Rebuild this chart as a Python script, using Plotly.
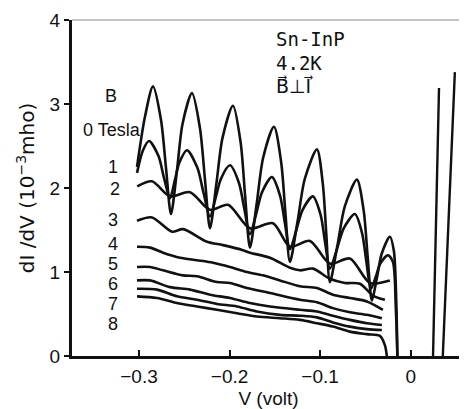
import plotly.graph_objects as go

# ---- data (V in volts, G = dI/dV in 1e-3 mho) ----
v_0T = [-0.30221, -0.29338, -0.28455, -0.27572, -0.27020, -0.26468,
        -0.25806, -0.25199, -0.24150, -0.23267, -0.22715, -0.22163,
        -0.21457, -0.20773, -0.19625, -0.18775, -0.18278, -0.17748,
        -0.17009, -0.16291, -0.15099, -0.14305, -0.13830, -0.13333,
        -0.12494, -0.11689, -0.10353, -0.09702, -0.09316, -0.08918,
        -0.08080, -0.07274, -0.05938, -0.05188, -0.04746, -0.04283,
        -0.03731, -0.03190, -0.02296, -0.01854, -0.01578, -0.01468]
g_0T = [2.25, 2.85, 3.21, 2.81, 2.24, 1.69,
        2.21, 2.76, 3.13, 2.71, 2.10, 1.52,
        2.05, 2.60, 2.98, 2.54, 1.90, 1.29,
        1.81, 2.36, 2.73, 2.31, 1.70, 1.12,
        1.60, 2.11, 2.46, 2.05, 1.45, 0.88,
        1.32, 1.78, 2.10, 1.73, 1.18, 0.66,
        0.93, 1.22, 1.42, 1.25, 0.60, 0.0]

v_1T = [-0.30221, -0.29558, -0.28896, -0.27848, -0.27241, -0.26578,
        -0.26049, -0.25552, -0.24702, -0.23554, -0.22870, -0.22163,
        -0.21545, -0.20949, -0.19956, -0.18962, -0.18366, -0.17748,
        -0.17064, -0.16413, -0.15320, -0.14426, -0.13885, -0.13333,
        -0.12627, -0.11932, -0.10795, -0.09945, -0.09448, -0.08918,
        -0.08146, -0.07395, -0.06159, -0.05364, -0.04890, -0.04393,
        -0.03863, -0.03355, -0.02517, -0.01965, -0.01634, -0.01468]
g_1T = [2.18, 2.45, 2.56, 2.38, 2.12, 1.88,
        2.09, 2.30, 2.45, 2.24, 1.94, 1.66,
        1.88, 2.11, 2.27, 2.06, 1.75, 1.45,
        1.69, 1.95, 2.13, 1.91, 1.58, 1.27,
        1.50, 1.74, 1.90, 1.68, 1.35, 1.04,
        1.27, 1.52, 1.69, 1.46, 1.12, 0.80,
        0.94, 1.10, 1.20, 1.12, 0.55, 0.0]

v_2T = [-0.302, -0.2857, -0.2658, -0.2437, -0.2216, -0.2017, -0.1775, -0.1521, -0.1333,
        -0.1113, -0.0892, -0.0671, -0.045, -0.023]
g_2T = [2.02, 2.08, 1.90, 1.95, 1.74, 1.80, 1.52, 1.58, 1.30, 1.37, 1.10, 1.16, 0.87, 0.90]

v_3T = [-0.3022, -0.2857, -0.2636, -0.2514, -0.2249, -0.2073, -0.1852, -0.1775, -0.1554,
        -0.1333, -0.1223, -0.1079, -0.0892, -0.0726, -0.0560, -0.0417, -0.0285]
g_3T = [1.61, 1.65, 1.48, 1.51, 1.36, 1.32, 1.26, 1.23, 1.17, 1.05, 1.02, 1.04, 0.92,
        0.87, 0.86, 0.72, 0.67]

v_4T = [-0.3022, -0.2879, -0.2735, -0.2547, -0.2360, -0.2183, -0.1996, -0.1808, -0.1631,
        -0.1444, -0.1223, -0.1035, -0.0859, -0.0671, -0.0483, -0.0307]
g_4T = [1.30, 1.29, 1.23, 1.17, 1.14, 1.11, 1.06, 1.00, 0.96, 0.90, 0.83, 0.81, 0.73,
        0.69, 0.65, 0.55]

v_5T = [-0.3022, -0.2879, -0.2735, -0.2514, -0.2360, -0.2139, -0.1996, -0.1808, -0.1554,
        -0.1223, -0.1035, -0.0859, -0.0671, -0.0483, -0.0318]
g_5T = [1.06, 1.06, 1.02, 0.96, 0.95, 0.88, 0.87, 0.81, 0.75, 0.67, 0.64, 0.57, 0.52,
        0.49, 0.45]

v_6T = [-0.3022, -0.2879, -0.2658, -0.2437, -0.2216, -0.1996, -0.1775, -0.1554, -0.1223,
        -0.1035, -0.0859, -0.0671, -0.0483, -0.0318]
g_6T = [0.90, 0.90, 0.82, 0.79, 0.73, 0.69, 0.63, 0.59, 0.55, 0.53, 0.48, 0.43, 0.39, 0.37]

v_7T = [-0.3022, -0.2801, -0.2581, -0.2360, -0.2139, -0.1918, -0.1698, -0.1444, -0.1223,
        -0.1035, -0.0859, -0.0671, -0.0483, -0.0318]
g_7T = [0.80, 0.79, 0.71, 0.67, 0.62, 0.59, 0.53, 0.49, 0.48, 0.46, 0.40, 0.35, 0.32, 0.31]

v_8T = [-0.3022, -0.2801, -0.2581, -0.2360, -0.2139, -0.1918, -0.1698, -0.1444, -0.1223,
        -0.1035, -0.0859, -0.0671, -0.0483, -0.0340, -0.0285, -0.0263]
g_8T = [0.71, 0.69, 0.63, 0.59, 0.55, 0.51, 0.47, 0.45, 0.43, 0.39, 0.35, 0.29, 0.26,
        0.24, 0.13, 0.0]

# positive-bias branches
v_pos_a = [0.0247, 0.0313]
g_pos_a = [0.0, 3.19]
v_pos_b = [0.0355, 0.0488]
g_pos_b = [0.0, 3.38]

x_tick_vals = [-0.3, -0.2, -0.1, 0.0]
x_tick_text = ["\u22120.3", "\u22120.2", "\u22120.1", "0"]
y_tick_vals = [0, 1, 2, 3, 4]
y_tick_text = ["0", "1", "2", "3", "4"]

field_labels = ["B", "0 Tesla", "1", "2", "3", "4", "5", "6", "7", "8"]
field_label_y = [3.095, 2.69, 2.25, 1.99, 1.62, 1.33, 1.095, 0.857, 0.619, 0.381]
field_label_x = [-0.331, -0.330, -0.329, -0.327, -0.329, -0.329, -0.329, -0.329, -0.329, -0.329]

INK = "#111111"
fig = go.Figure()
curves = [(v_0T, g_0T), (v_1T, g_1T), (v_2T, g_2T), (v_3T, g_3T), (v_4T, g_4T),
          (v_5T, g_5T), (v_6T, g_6T), (v_7T, g_7T), (v_8T, g_8T)]
for vx, gy in curves:
    fig.add_trace(go.Scatter(x=vx, y=gy, mode="lines",
                             line=dict(color=INK, width=2.6, shape="spline", smoothing=0.8),
                             showlegend=False, hoverinfo="skip"))
for vx, gy in [(v_pos_a, g_pos_a), (v_pos_b, g_pos_b)]:
    fig.add_trace(go.Scatter(x=vx, y=gy, mode="lines",
                             line=dict(color=INK, width=2.4),
                             showlegend=False, hoverinfo="skip"))

FONT = "Liberation Sans, Arial, sans-serif"
MONO = "DejaVu Sans Mono, monospace"
for txt, xx, yy in zip(field_labels, field_label_x, field_label_y):
    fig.add_annotation(x=xx, y=yy, xref="x", yref="y", text=txt, showarrow=False,
                       font=dict(family=FONT, size=18, color=INK))

for txt, yy in [("Sn-InP", 3.774), ("4.2K", 3.488)]:
    fig.add_annotation(x=0.5165, y=yy, xref="paper", yref="y", text=txt, showarrow=False,
                       xanchor="left", borderpad=0,
                       font=dict(family=MONO, size=19, color=INK))
fig.add_annotation(x=0.5165, y=3.214, xref="paper", yref="y", text="B\u20d7\u22a5I\u20d7",
                   showarrow=False, xanchor="left", borderpad=0,
                   font=dict(family="DejaVu Sans", size=19, color=INK))

fig.add_shape(type="line", xref="paper", yref="paper", x0=0, x1=1, y0=1, y1=1,
              line=dict(color="#8a8a8a", width=1))

# page body has an 8 px margin; size/margins chosen so the plot area lands
# at x 72..465, y 20..356 in the 467x409 window
fig.update_layout(
    width=459, height=401,
    margin=dict(l=64, r=2, t=12, b=53),
    paper_bgcolor="white", plot_bgcolor="white",
    xaxis=dict(range=[-0.374, 0.060], showgrid=False, zeroline=False,
               showline=True, linecolor=INK, linewidth=3,
               tickmode="array", tickvals=x_tick_vals, ticktext=x_tick_text,
               ticks="inside", ticklen=6, tickwidth=1.5, tickcolor=INK,
               ticklabelstandoff=1, automargin=False,
               title=dict(text="V (volt)", standoff=6,
                          font=dict(family=FONT, size=19, color=INK)),
               tickfont=dict(family=FONT, size=19, color=INK)),
    yaxis=dict(range=[0, 4], showgrid=False, zeroline=False,
               showline=True, linecolor=INK, linewidth=3,
               tickmode="array", tickvals=y_tick_vals, ticktext=y_tick_text,
               ticks="outside", ticklen=5, tickwidth=2, tickcolor=INK,
               automargin=False,
               title=dict(text="dI /dV (10<sup>\u22123</sup>mho)", standoff=10,
                          font=dict(family="DejaVu Sans", size=20, color=INK)),
               tickfont=dict(family=FONT, size=19, color=INK)),
)

fig.write_html("out.html")
